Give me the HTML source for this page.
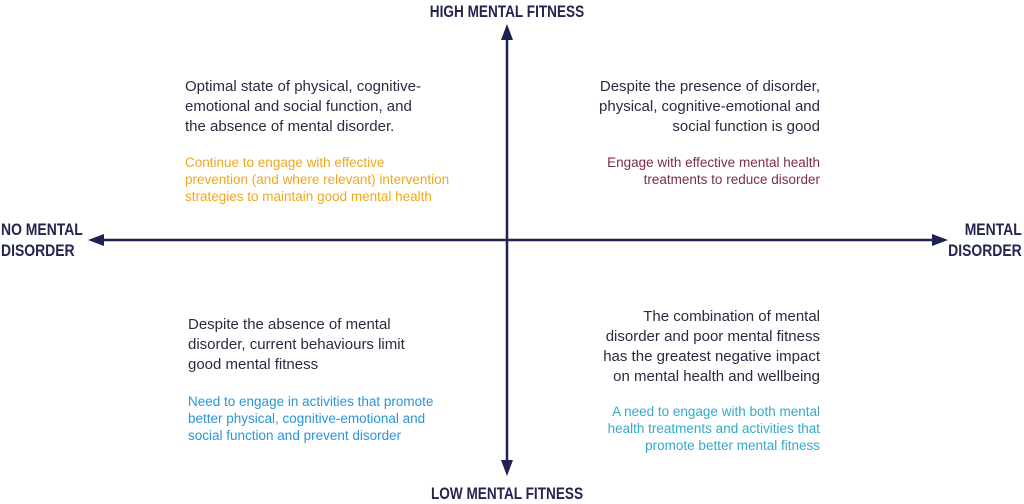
<!DOCTYPE html>
<html><head><meta charset="utf-8"><style>
body{margin:0;width:1024px;height:504px;background:#fff;position:relative;overflow:hidden;font-family:"Liberation Sans",sans-serif}
.b{position:absolute;font-size:15px;line-height:20px;color:#2a2b40}
.s{position:absolute;font-size:13.5px;line-height:17px;white-space:nowrap}
.r{text-align:right}
.lab{position:absolute;font-family:"Liberation Sans",sans-serif;font-weight:bold;font-size:17px;line-height:21px;color:#23254f;white-space:nowrap}
</style></head><body>
<svg width="1024" height="504" style="position:absolute;left:0;top:0">
<g stroke="#1f2150" stroke-width="2.5"><line x1="507" y1="36" x2="507" y2="466"/><line x1="98" y1="240" x2="938" y2="240"/></g>
<g fill="#1f2150">
<polygon points="507,24 501,40 513,40"/>
<polygon points="507,476 501,460 513,460"/>
<polygon points="88,240 104,234 104,246"/>
<polygon points="948,240 932,234 932,246"/>
</g></svg>
<div class="lab" style="left:0;width:1014px;text-align:center;top:1px;transform:scaleX(0.8);transform-origin:507px 0">HIGH MENTAL FITNESS</div>
<div class="lab" style="left:0;width:1014px;text-align:center;top:483px;transform:scaleX(0.8);transform-origin:507px 0">LOW MENTAL FITNESS</div>
<div class="lab" style="left:1px;top:219px;transform:scaleX(0.82);transform-origin:0 0">NO MENTAL<br>DISORDER</div>
<div class="lab r" style="right:2px;top:219px;transform:scaleX(0.82);transform-origin:100% 0">MENTAL<br>DISORDER</div>
<div class="b" style="left:185px;top:77px">Optimal state of physical, cognitive-<br>emotional and social function, and<br>the absence of mental disorder.</div>
<div class="s" style="left:185px;top:154px;color:#eea820">Continue to engage with effective<br>prevention (and where relevant) intervention<br>strategies to maintain good mental health</div>
<div class="b r" style="right:204px;top:77px">Despite the presence of disorder,<br>physical, cognitive-emotional and<br>social function is good</div>
<div class="s r" style="right:204px;top:154px;color:#7a2f42">Engage with effective mental health<br>treatments to reduce disorder</div>
<div class="b" style="left:188px;top:315px">Despite the absence of mental<br>disorder, current behaviours limit<br>good mental fitness</div>
<div class="s" style="left:188px;top:393px;color:#2a95d8">Need to engage in activities that promote<br>better physical, cognitive-emotional and<br>social function and prevent disorder</div>
<div class="b r" style="right:204px;top:307px">The combination of mental<br>disorder and poor mental fitness<br>has the greatest negative impact<br>on mental health and wellbeing</div>
<div class="s r" style="right:204px;top:403px;color:#35a9c9">A need to engage with both mental<br>health treatments and activities that<br>promote better mental fitness</div>
</body></html>
